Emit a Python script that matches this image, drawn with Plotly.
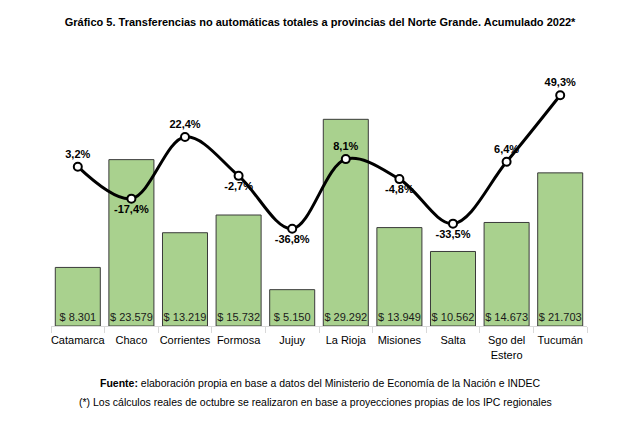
import plotly.graph_objects as go

# Datos
provincias = ["Catamarca", "Chaco", "Corrientes", "Formosa", "Jujuy", "La Rioja",
              "Misiones", "Salta", "Sgo del<br>Estero", "Tucumán"]
transferencias = [8301, 23579, 13219, 15732, 5150, 29292, 13949, 10562, 14673, 21703]
variacion = [3.2, -17.4, 22.4, -2.7, -36.8, 8.1, -4.8, -33.5, 6.4, 49.3]
pos_etiqueta = ["top center", "bottom center", "top center", "bottom center", "bottom center",
                "top center", "bottom center", "bottom center", "top center", "top center"]

def fmt_miles(v):
    return "$ " + f"{v:,}".replace(",", ".")

def fmt_pct(v):
    return f"{v:.1f}".replace(".", ",") + "%"

fig = go.Figure()

fig.add_trace(go.Bar(
    x=provincias, y=transferencias,
    marker=dict(color="#A9D18E", line=dict(color="#3a3a3a", width=1)),
    width=0.84,
    text=[fmt_miles(v) for v in transferencias],
    textposition="inside", insidetextanchor="start",
    textfont=dict(family="Liberation Sans", size=11, color="#1a1a1a"),
    textangle=0,
    showlegend=False,
))

fig.add_trace(go.Scatter(
    x=provincias, y=variacion, yaxis="y2",
    mode="lines+markers+text",
    line=dict(color="black", width=3, shape="spline", smoothing=1.0),
    marker=dict(size=8, color="white", line=dict(color="black", width=2)),
    text=[fmt_pct(v) for v in variacion],
    textposition=pos_etiqueta,
    textfont=dict(family="Liberation Sans", size=11, color="black"),
    texttemplate="<b>%{text}</b>",
    cliponaxis=False,
    showlegend=False,
))

fig.update_layout(
    width=628, height=426,
    paper_bgcolor="white", plot_bgcolor="white",
    margin=dict(l=43, r=49, t=52, b=108, autoexpand=False),
    font=dict(family="Liberation Sans", size=11, color="black"),
    uniformtext=dict(minsize=11, mode="show"),
    title=dict(
        text="<b>Gráfico 5. Transferencias no automáticas totales a provincias del Norte Grande. Acumulado 2022*</b>",
        xref="paper", x=0.502, xanchor="center", y=0.967, yanchor="middle",
        font=dict(family="Liberation Sans", size=11, color="black"),
    ),
    xaxis=dict(
        range=[-0.5, len(provincias) - 0.5],
        showline=True, linecolor="#d9d9d9", linewidth=1,
        ticks="outside", tickson="boundaries", tickcolor="#d9d9d9", ticklen=6,
        tickangle=0, automargin=False, ticklabelstandoff=4,
        tickfont=dict(family="Liberation Sans", size=11, color="black"),
        showgrid=False,
    ),
    yaxis=dict(range=[0, 37700], visible=False, showgrid=False),
    yaxis2=dict(range=[-99.5, 72], overlaying="y", side="right",
                visible=False, showgrid=False),
    bargap=0.16,
)

fig.add_annotation(
    text="<b>Fuente:</b> elaboración propia en base a datos del Ministerio de Economía de la Nación e INDEC",
    xref="paper", yref="paper", x=0.502, y=-0.214, xanchor="center", yanchor="middle",
    showarrow=False, font=dict(family="Liberation Sans", size=10.5, color="black"),
)
fig.add_annotation(
    text="(*) Los cálculos reales de octubre se realizaron en base a proyecciones propias de los IPC regionales",
    xref="paper", yref="paper", x=0.494, y=-0.286, xanchor="center", yanchor="middle",
    showarrow=False, font=dict(family="Liberation Sans", size=10.5, color="black"),
)

fig.write_html("out.html")
